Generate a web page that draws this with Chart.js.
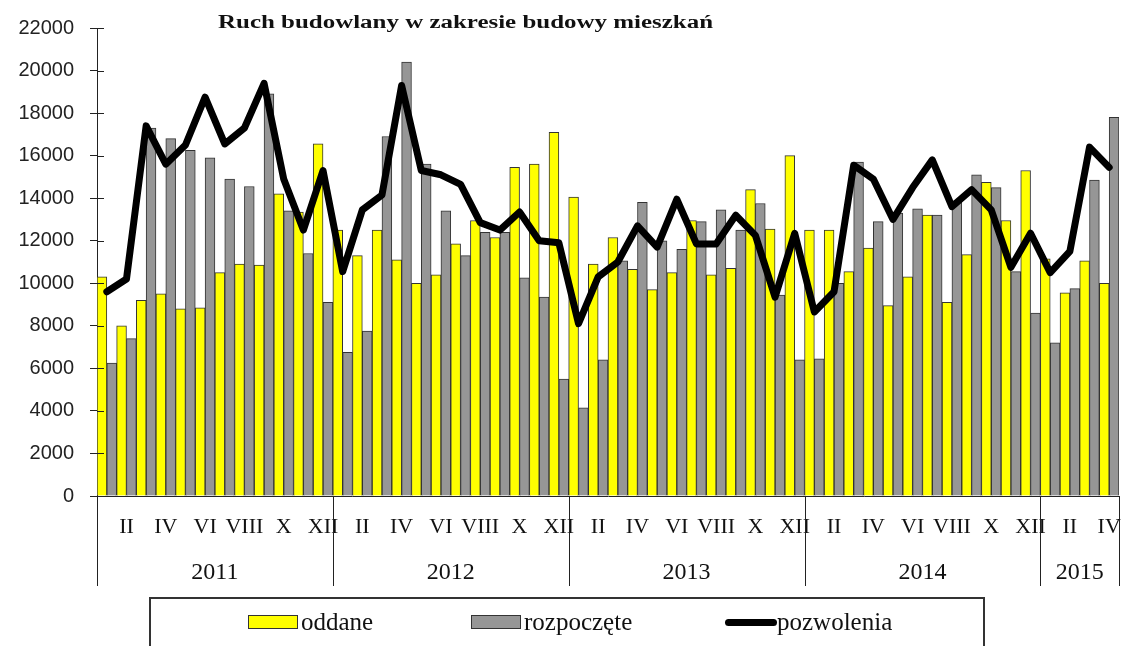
<!DOCTYPE html>
<html lang="pl">
<head>
<meta charset="utf-8">
<title>Ruch budowlany w zakresie budowy mieszkań</title>
<script src="https://cdn.jsdelivr.net/npm/chart.js@4/dist/chart.umd.min.js"></script>
<style>
  html, body { margin: 0; padding: 0; background: #fff; }
  #wrap { position: relative; width: 1122px; height: 646px; overflow: hidden; }
  #grafico { position: absolute; left: 0; top: 0; }
  #legenda {
    position: absolute; left: 149px; top: 597px; width: 836px; height: 70px;
    border: 2px solid #333; box-sizing: border-box;
    font-family: "Liberation Serif", "DejaVu Serif", serif; font-size: 25px; color: #111;
  }
  .item { position: absolute; top: 8px; height: 30px; line-height: 30px; white-space: nowrap; }
  .caja { display: inline-block; width: 48px; height: 12px; border: 1px solid #333; vertical-align: middle; margin-right: 3px; position: relative; top: -2px; }
  .linea { display: inline-block; width: 52px; height: 7px; border-radius: 4px; background: #000; vertical-align: middle; position: relative; top: -2px; }
</style>
</head>
<body>
<div id="wrap">
  <canvas id="grafico" width="1122" height="646"></canvas>
  <div id="legenda">
    <div class="item" style="left:97px"><span class="caja" style="background:#ffff00"></span>oddane</div>
    <div class="item" style="left:320px"><span class="caja" style="background:#969696"></span>rozpoczęte</div>
    <div class="item" style="left:574px"><span class="linea"></span>pozwolenia</div>
  </div>
</div>
<script>
// --- DATOS ---
const tytul = 'Ruch budowlany w zakresie budowy mieszkań';
const lata = ['2011', '2012', '2013', '2014', '2015'];
const miesiaceWRoku = [12, 12, 12, 12, 4];
const rzymskie = ['I', 'II', 'III', 'IV', 'V', 'VI', 'VII', 'VIII', 'IX', 'X', 'XI', 'XII'];

const oddane = [
  10300, 8000, 9200, 9500, 8800, 8850, 10500, 10900, 10850, 14200, 13350, 16550,
  12500, 11300, 12500, 11100, 10000, 10400, 11850, 12950, 12150, 15450, 15600, 17100,
  14050, 10900, 12150, 10650, 9700, 10500, 12950, 10400, 10700, 14400, 12550, 16000,
  12500, 12500, 10550, 11650, 8950, 10300, 13200, 9100, 11350, 14750, 12950, 15300,
  11150, 9550, 11050, 10000
];
const rozpoczete = [
  6250, 7400, 17300, 16800, 16250, 15900, 14900, 14550, 18900, 13400, 11400, 9100,
  6750, 7750, 16900, 20400, 15600, 13400, 11300, 12400, 12400, 10250, 9350, 5500,
  4150, 6400, 11050, 13800, 12000, 11600, 12900, 13450, 12500, 13750, 9450, 6400,
  6450, 10000, 15700, 12900, 13300, 13500, 13200, 13800, 15100, 14500, 10550, 8600,
  7200, 9750, 14850, 17800
];
const pozwolenia = [
  9600, 10200, 17400, 15600, 16500, 18750, 16550, 17300, 19400, 14900, 12500, 15300,
  10550, 13450, 14150, 19300, 15300, 15100, 14650, 12850, 12500, 13350, 12000, 11900,
  8100, 10300, 11000, 12700, 11700, 13950, 11850, 11850, 13200, 12250, 9350, 12350,
  8650, 9600, 15550, 14900, 13000, 14500, 15800, 13600, 14400, 13450, 10750, 12350,
  10500, 11500, 16400, 15450
];

// etykiety miesięcy (I..XII dla każdego roku)
const etykiety = [];
miesiaceWRoku.forEach(n => { for (let i = 0; i < n; i++) etykiety.push(rzymskie[i]); });

// granice lat i środki lat w jednostkach kategorii
const granice = [-0.5];
const srodki = [];
miesiaceWRoku.forEach(n => {
  const start = granice[granice.length - 1];
  srodki.push(start + n / 2);
  granice.push(start + n);
});

const serif = '"Liberation Serif", "DejaVu Serif", serif';
const sans = '"Liberation Sans", Arial, sans-serif';

// --- PLUGINY ---
const tytulPlugin = {
  id: 'tytul',
  afterDraw(chart) {
    const ctx = chart.ctx;
    ctx.save();
    ctx.font = 'bold 18px ' + serif;
    ctx.fillStyle = '#111';
    ctx.textBaseline = 'alphabetic';
    const w = ctx.measureText(tytul).width;
    ctx.translate(218, 28);
    ctx.scale(495 / w, 1);
    ctx.fillText(tytul, 0, 0);
    ctx.restore();
  }
};

// linie między latami + kreski osi Y po wewnętrznej stronie
const separatoryPlugin = {
  id: 'separatory',
  afterDraw(chart) {
    const ctx = chart.ctx;
    const skala = chart.scales.x2;
    const osY = chart.scales.y;
    const { left, bottom } = chart.chartArea;
    ctx.save();
    ctx.strokeStyle = '#222';
    ctx.lineWidth = 1;
    granice.forEach(g => {
      const px = Math.round(skala.getPixelForValue(g)) + 0.5;
      ctx.beginPath();
      ctx.moveTo(px, bottom);
      ctx.lineTo(px, 586);
      ctx.stroke();
    });
    osY.ticks.forEach(t => {
      const py = Math.round(osY.getPixelForValue(t.value)) + 0.5;
      ctx.beginPath();
      ctx.moveTo(left, py);
      ctx.lineTo(left + 7, py);
      ctx.stroke();
    });
    ctx.restore();
  }
};

// --- GRÁFICO ---
const chart = new Chart(document.getElementById('grafico'), {
  type: 'bar',
  data: {
    labels: etykiety,
    datasets: [
      {
        type: 'line',
        label: 'pozwolenia',
        data: pozwolenia,
        borderColor: '#000',
        borderWidth: 7,
        borderJoinStyle: 'round',
        borderCapStyle: 'round',
        pointRadius: 0,
        tension: 0,
        fill: false,
        order: 0
      },
      {
        label: 'oddane',
        data: oddane,
        backgroundColor: '#ffff00',
        borderColor: '#333',
        borderWidth: 1,
        order: 1
      },
      {
        label: 'rozpoczęte',
        data: rozpoczete,
        backgroundColor: '#969696',
        borderColor: '#333',
        borderWidth: 1,
        order: 1
      }
    ]
  },
  options: {
    responsive: false,
    animation: false,
    layout: { padding: { top: 28, right: 3, bottom: 50, left: 0 } },
    datasets: { bar: { categoryPercentage: 1, barPercentage: 1 } },
    plugins: {
      legend: { display: false },
      title: { display: false },
      tooltip: { enabled: false }
    },
    scales: {
      x: {
        type: 'category',
        offset: true,
        weight: 0,
        grid: { display: false },
        border: { display: true, color: '#222', width: 1 },
        ticks: {
          autoSkip: false,
          maxRotation: 0,
          padding: 10,
          color: '#111',
          font: { family: serif, size: 22 },
          callback: (v, i) => (i % 12) % 2 === 1 ? etykiety[i] : ''
        },
        afterFit: s => { s.height = 50; s.paddingLeft = 0; s.paddingRight = 0; }
      },
      x2: {
        type: 'linear',
        position: 'bottom',
        weight: 1,
        offset: false,
        min: -0.5,
        max: granice[granice.length - 1],
        grid: { display: false, offset: false },
        border: { display: false },
        afterBuildTicks: s => { s.ticks = srodki.map(v => ({ value: v })); },
        ticks: {
          padding: 4,
          color: '#111',
          font: { family: serif, size: 24 },
          callback: (v, i) => lata[i]
        },
        afterFit: s => { s.height = 50; s.paddingLeft = 0; s.paddingRight = 0; }
      },
      y: {
        min: 0,
        max: 22000,
        grid: { drawOnChartArea: false, drawTicks: true, tickLength: 7, color: '#222' },
        border: { display: true, color: '#222', width: 1 },
        ticks: {
          stepSize: 2000,
          padding: 16,
          color: '#222',
          font: { family: sans, size: 20 },
          callback: v => String(v)
        },
        afterFit: s => { s.width = 97; }
      }
    }
  },
  plugins: [tytulPlugin, separatoryPlugin]
});
</script>
</body>
</html>
